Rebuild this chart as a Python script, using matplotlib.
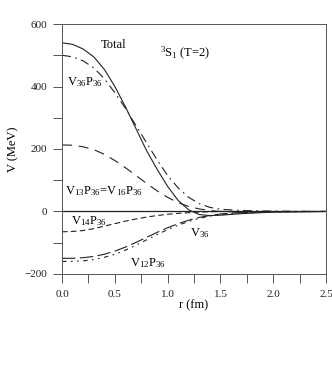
import numpy as np
import matplotlib.pyplot as plt
from matplotlib.ticker import MultipleLocator

plt.rcParams['font.family'] = ['Liberation Serif', 'DejaVu Serif']
plt.rcParams['mathtext.fontset'] = 'custom'
plt.rcParams['mathtext.rm'] = 'Liberation Serif'
plt.rcParams['mathtext.it'] = 'Liberation Serif:italic'

# r (fm) grid
r = [0.0, 0.1, 0.2, 0.3, 0.4, 0.5, 0.6, 0.7, 0.8, 0.9, 1.0, 1.1, 1.2, 1.3, 1.4, 1.5, 1.7, 2.0, 2.5]
total = [540, 535, 520, 495, 455, 400, 335, 265, 195, 135, 80, 35, 5, -10, -13, -12, -7, -2, 0]
v36p36 = [500, 495, 482, 460, 425, 380, 330, 275, 220, 165, 115, 75, 45, 25, 13, 7, 3, 1, 0]
v13p36 = [213, 212, 207, 198, 183, 163, 140, 115, 90, 66, 45, 28, 16, 8, 3, 0, -2, -1, 0]
v14p36 = [-65, -64, -61, -55, -47, -39, -31, -24, -18, -13, -9, -6, -4, -2, -1, 0, 0, 0, 0]
v12p36 = [-160, -160, -158, -154, -147, -137, -124, -108, -91, -74, -58, -44, -32, -22, -15, -10, -4, -1, 0]
v36 = [-150, -150, -148, -144, -137, -127, -114, -99, -83, -67, -52, -39, -28, -19, -13, -8, -3, -1, 0]

fig = plt.figure(figsize=(3.32, 3.88), dpi=100)
ax = fig.add_axes([0.187, 0.294, 0.795, 0.644])

lw = 0.8
c = '#222222'
ax.axhline(0, color=c, lw=0.9)
ax.plot(r, total, color=c, lw=lw)
ax.plot(r, v36p36, color=c, lw=lw, dashes=(8, 4, 1.5, 4))
ax.plot(r, v13p36, color=c, lw=lw, dashes=(9, 6))
ax.plot(r, v14p36, color=c, lw=lw, dashes=(5, 3))
ax.plot(r, v12p36, color=c, lw=lw, dashes=(4, 4, 1.5, 4, 1.5, 4))
ax.plot(r, v36, color=c, lw=lw, dashes=(12, 4))

ax.set_xlim(0, 2.5)
ax.set_ylim(-200, 600)
ax.xaxis.set_major_locator(MultipleLocator(0.5))
ax.xaxis.set_minor_locator(MultipleLocator(0.25))
ax.yaxis.set_major_locator(MultipleLocator(200))
ax.yaxis.set_minor_locator(MultipleLocator(100))
ax.set_xticks([0, 0.5, 1.0, 1.5, 2.0, 2.5])
ax.set_xticklabels(['0.0', '0.5', '1.0', '1.5', '2.0', '2.5'])
ax.tick_params(which='both', direction='out', length=6.5, width=0.7, color='#555555',
               labelsize=8, labelcolor='#222222')
ax.tick_params(axis='x', pad=5)
ax.tick_params(axis='y', pad=4)
for s in ax.spines.values():
    s.set_linewidth(0.7)
    s.set_color('#555555')

ax.set_xlabel('r (fm)', fontsize=9, labelpad=0)
ax.set_ylabel('V (MeV)', fontsize=9, labelpad=4)

fs = 9
ax.text(0.49, 533, 'Total', fontsize=fs, ha='center', va='center')
ax.text(0.93, 507, r'$^{3}\mathrm{S}_{1}$ (T=2)', fontsize=fs, ha='left', va='center')
ax.text(0.05, 414, r'$\mathrm{V}_{36}\mathrm{P}_{36}$', fontsize=fs, ha='left', va='center')
ax.text(0.03, 66, r'$\mathrm{V}_{13}\mathrm{P}_{36}\!=\!\mathrm{V}_{16}\mathrm{P}_{36}$', fontsize=fs,
        ha='left', va='center')
ax.text(0.08, -32, r'$\mathrm{V}_{14}\mathrm{P}_{36}$', fontsize=fs, ha='left', va='center')
ax.text(1.21, -70, r'$\mathrm{V}_{36}$', fontsize=fs, ha='left', va='center')
ax.text(0.64, -165, r'$\mathrm{V}_{12}\mathrm{P}_{36}$', fontsize=fs, ha='left', va='center')

fig.savefig('out.png', dpi=100)
